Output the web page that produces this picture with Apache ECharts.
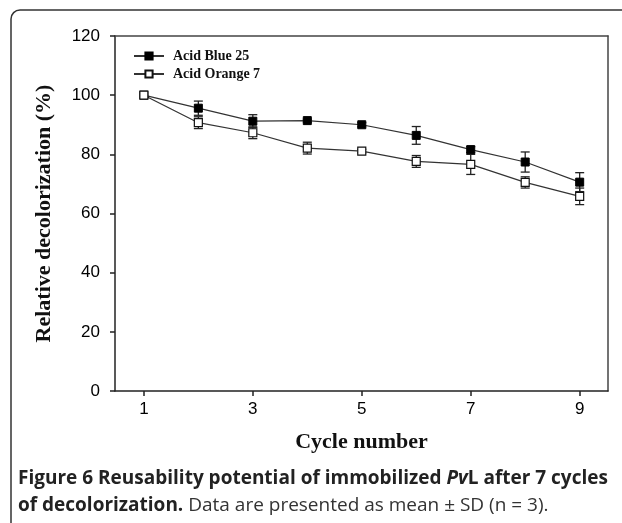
<!DOCTYPE html>
<html>
<head>
<meta charset="utf-8">
<script src="https://cdn.jsdelivr.net/npm/echarts@6/dist/echarts.min.js"></script>
<style>
  html, body { margin: 0; padding: 0; background: #fff; }
  #main { width: 622px; height: 523px; }
</style>
</head>
<body>
<div id="main"></div>
<script>
  // cycle number on x, relative decolorization (%) on y
  var cycles = [1, 2, 3, 4, 5, 6, 7, 8, 9];
  var blue25 = [100, 95.6, 91.2, 91.4, 90.0, 86.4, 81.6, 77.4, 70.6];
  var blue25Sd = [0, 2.4, 2.2, 0.5, 0.7, 3.0, 1.0, 3.4, 3.2];
  var orange7 = [100, 90.7, 87.3, 82.1, 81.1, 77.6, 76.6, 70.5, 65.8];
  var orange7Sd = [0, 2.0, 2.0, 2.0, 0.6, 2.0, 3.4, 1.9, 2.8];
  var xTicks = [1, 3, 5, 7, 9];

  var serif = '"Liberation Serif", "Times New Roman", serif';
  var sans = '"Liberation Sans", Arial, sans-serif';
  var capFont = '"Open Sans", sans-serif';

  function pairs(ys) {
    return cycles.map(function (c, i) { return [c, ys[i]]; });
  }
  function errRows(ys, sd) {
    return cycles.map(function (c, i) { return [c, ys[i], sd[i]]; });
  }

  function renderErr(params, api) {
    var x = api.value(0), y = api.value(1), sd = api.value(2);
    if (!sd) return null;
    var top = api.coord([x, y + sd]);
    var bot = api.coord([x, y - sd]);
    var cap = 4.5;
    var st = { stroke: '#222', lineWidth: 1.3 };
    return {
      type: 'group',
      children: [
        { type: 'line', shape: { x1: top[0], y1: top[1], x2: bot[0], y2: bot[1] }, style: st },
        { type: 'line', shape: { x1: top[0] - cap, y1: top[1], x2: top[0] + cap, y2: top[1] }, style: st },
        { type: 'line', shape: { x1: bot[0] - cap, y1: bot[1], x2: bot[0] + cap, y2: bot[1] }, style: st }
      ]
    };
  }

  var myChart = echarts.init(document.getElementById('main'));
  myChart.setOption({
    backgroundColor: '#fff',
    animation: false,
    grid: { left: 115, right: 14, top: 36, bottom: 132 },
    legend: {
      orient: 'vertical',
      left: 128,
      top: 44,
      itemWidth: 30,
      itemHeight: 9,
      itemGap: 4,
      data: ['Acid Blue 25', 'Acid Orange 7'],
      textStyle: { fontFamily: serif, fontWeight: 'bold', fontSize: 14, color: '#111', padding: [0, 0, 0, 4] }
    },
    xAxis: [{
      type: 'value',
      min: 0.47,
      max: 9.52,
      name: 'Cycle number',
      nameLocation: 'middle',
      nameGap: 40,
      nameTextStyle: { fontFamily: serif, fontWeight: 'bold', fontSize: 22, color: '#111' },
      axisLine: { show: true, lineStyle: { color: '#222', width: 1.5 } },
      axisTick: { show: true, length: 5, customValues: xTicks, lineStyle: { color: '#222', width: 1.5 } },
      axisLabel: { customValues: xTicks, fontFamily: sans, fontSize: 17, color: '#000', margin: 10 },
      splitLine: { show: false }
    }, {
      type: 'value',
      position: 'top',
      min: 0.47,
      max: 9.52,
      axisLine: { show: true, onZero: false, lineStyle: { color: '#444', width: 1.5 } },
      axisTick: { show: false },
      axisLabel: { show: false },
      splitLine: { show: false }
    }],
    yAxis: [{
      type: 'value',
      min: 0,
      max: 120,
      interval: 20,
      name: 'Relative decolorization (%)',
      nameLocation: 'middle',
      nameGap: 60,
      nameTextStyle: { fontFamily: serif, fontWeight: 'bold', fontSize: 22, color: '#111' },
      axisLine: { show: true, lineStyle: { color: '#222', width: 1.5 } },
      axisTick: { show: true, length: 5, lineStyle: { color: '#222', width: 1.5 } },
      axisLabel: { fontFamily: sans, fontSize: 17, color: '#000', margin: 15 },
      splitLine: { show: false }
    }, {
      type: 'value',
      position: 'right',
      min: 0,
      max: 120,
      axisLine: { show: true, onZero: false, lineStyle: { color: '#444', width: 1.5 } },
      axisTick: { show: false },
      axisLabel: { show: false },
      splitLine: { show: false }
    }],
    series: [
      {
        type: 'custom',
        name: 'sd-blue',
        renderItem: renderErr,
        data: errRows(blue25, blue25Sd),
        z: 1
      },
      {
        type: 'custom',
        name: 'sd-orange',
        renderItem: renderErr,
        data: errRows(orange7, orange7Sd),
        z: 1
      },
      {
        type: 'line',
        name: 'Acid Blue 25',
        data: pairs(blue25),
        symbol: 'rect',
        symbolSize: 8,
        z: 3,
        lineStyle: { color: '#333', width: 1.2 },
        itemStyle: { color: '#000', borderColor: '#000', borderWidth: 1 }
      },
      {
        type: 'line',
        name: 'Acid Orange 7',
        data: pairs(orange7),
        symbol: 'rect',
        symbolSize: 8,
        z: 3,
        lineStyle: { color: '#333', width: 1.2 },
        itemStyle: { color: '#fff', borderColor: '#111', borderWidth: 1.2 }
      }
    ],
    graphic: [
      {
        type: 'rect',
        shape: { x: 11, y: 10, width: 700, height: 700, r: 9 },
        style: { fill: null, stroke: '#333', lineWidth: 1.5 },
        silent: true
      },
      {
        type: 'text',
        left: 18,
        top: 469,
        style: {
          text: '{b|Figure 6 Reusability potential of immobilized }{bi|Pv}{b|L after 7 cycles}',
          rich: {
            b: { fontFamily: capFont, fontWeight: 'bold', fontSize: 19, fill: '#222' },
            bi: { fontFamily: capFont, fontWeight: 'bold', fontStyle: 'italic', fontSize: 19, fill: '#222' }
          }
        }
      },
      {
        type: 'text',
        left: 18,
        top: 496,
        style: {
          text: '{b|of decolorization.}{r| Data are presented as mean ± SD (n = 3).}',
          rich: {
            b: { fontFamily: capFont, fontWeight: 'bold', fontSize: 19, fill: '#222' },
            r: { fontFamily: capFont, fontSize: 19, fill: '#333' }
          }
        }
      }
    ]
  });
</script>
</body>
</html>
